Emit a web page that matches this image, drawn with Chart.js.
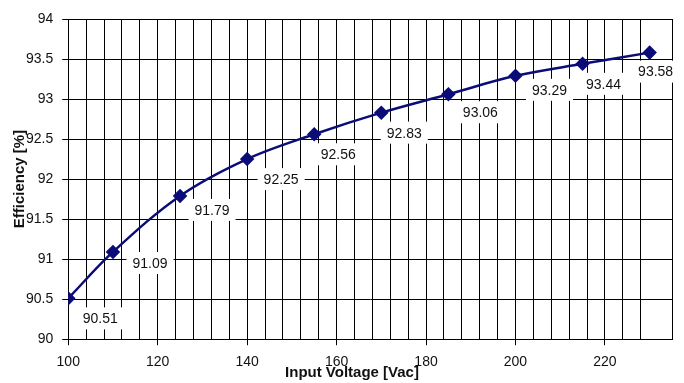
<!DOCTYPE html>
<html>
<head>
<meta charset="utf-8">
<script src="https://cdn.jsdelivr.net/npm/chart.js@4.4.1/dist/chart.umd.min.js"></script>
<style>
  body { margin: 0; background: #fff; }
  #wrap { width: 684px; height: 383px; }
</style>
</head>
<body>
<div id="wrap"><canvas id="effChart" width="684" height="383"></canvas></div>
<script>
/* data */
const voltages = [100, 110, 125, 140, 155, 170, 185, 200, 215, 230]
const efficiency = [90.51, 91.09, 91.79, 92.25, 92.56, 92.83, 93.06, 93.29, 93.44, 93.58]
const xLabelTicks = [100, 120, 140, 160, 180, 200, 220]
const xTitle = 'Input Voltage [Vac]'
const yTitle = 'Efficiency [%]'

const colors = {
    line: "#0c0c78",
    grid: "#000000",
    text: "#111111"
}

const FONT = '"Liberation Sans", Arial, sans-serif'

// where each boxed label sits, relative to its point (px)
const labelShift = [[32, 20], [37, 11], [32, 14], [34, 20], [24, 20], [23, 20], [32, 18], [34, 14], [21, 20], [6, 19]]

const valueLabels = {
    id: 'valueLabels',
    afterDatasetsDraw(chart) {
        const ctx = chart.ctx
        const meta = chart.getDatasetMeta(0)
        ctx.save()
        ctx.font = '14px ' + FONT
        ctx.textAlign = 'center'
        ctx.textBaseline = 'middle'
        meta.data.forEach(function(pt, i) {
            const txt = efficiency[i].toFixed(2)
            const w = ctx.measureText(txt).width + 12
            const h = 22
            const cx = pt.x + labelShift[i][0]
            const cy = pt.y + labelShift[i][1]
            ctx.fillStyle = '#fff'
            ctx.fillRect(cx - w / 2, cy - h / 2, w, h)
            ctx.fillStyle = colors.text
            ctx.fillText(txt, cx, cy + 1)
        })
        ctx.restore()
    }
}

// x title is centred on the whole chart (not the plot), like the original
const xTitlePlugin = {
    id: 'xTitlePlugin',
    afterDraw(chart) {
        const ctx = chart.ctx
        ctx.save()
        ctx.font = 'bold 15px ' + FONT
        ctx.fillStyle = colors.text
        ctx.textAlign = 'center'
        ctx.textBaseline = 'middle'
        ctx.fillText(xTitle, chart.width / 2 + 10, chart.height - 10)
        ctx.restore()
    }
}

const ctx = document.getElementById('effChart').getContext('2d')
const myChart = new Chart(ctx, {
    type: 'line',
    data: {
        datasets: [{
            label: 'Efficiency',
            data: voltages.map(function(v, i) { return { x: v, y: efficiency[i] } }),
            borderColor: colors.line,
            backgroundColor: colors.line,
            borderWidth: 2.5,
            tension: 0.35,
            pointStyle: 'rectRot',
            pointRadius: 5.5,
            pointHoverRadius: 5.5
        }]
    },
    options: {
        responsive: false,
        animation: false,
        layout: { padding: { top: 19, right: 12, left: 9, bottom: 3 } },
        plugins: {
            legend: { display: false },
            tooltip: { enabled: false }
        },
        scales: {
            x: {
                type: 'linear',
                min: 100,
                max: 235,
                border: { display: true, color: colors.grid, width: 1 },
                grid: {
                    color: colors.grid,
                    lineWidth: 1,
                    tickLength: 6,
                    tickColor: function(c) {
                        return xLabelTicks.indexOf(c.tick.value) >= 0 ? colors.grid : 'rgba(0,0,0,0)'
                    }
                },
                ticks: {
                    stepSize: 4,
                    autoSkip: false,
                    maxRotation: 0,
                    padding: 9,
                    color: colors.text,
                    font: { family: FONT, size: 14 },
                    callback: function(v) { return xLabelTicks.indexOf(v) >= 0 ? String(v) : '' }
                }
            },
            y: {
                min: 90,
                max: 94,
                border: { display: true, color: colors.grid, width: 1 },
                grid: { color: colors.grid, lineWidth: 1, tickLength: 6, tickColor: colors.grid },
                ticks: {
                    stepSize: 0.5,
                    padding: 9,
                    color: colors.text,
                    font: { family: FONT, size: 14 },
                    callback: function(v) { return String(v) }
                },
                title: {
                    display: true,
                    text: yTitle,
                    color: colors.text,
                    font: { family: FONT, size: 15, weight: 'bold' },
                    padding: { top: 2, bottom: -12 }
                }
            }
        }
    },
    plugins: [valueLabels, xTitlePlugin]
})
</script>
</body>
</html>
